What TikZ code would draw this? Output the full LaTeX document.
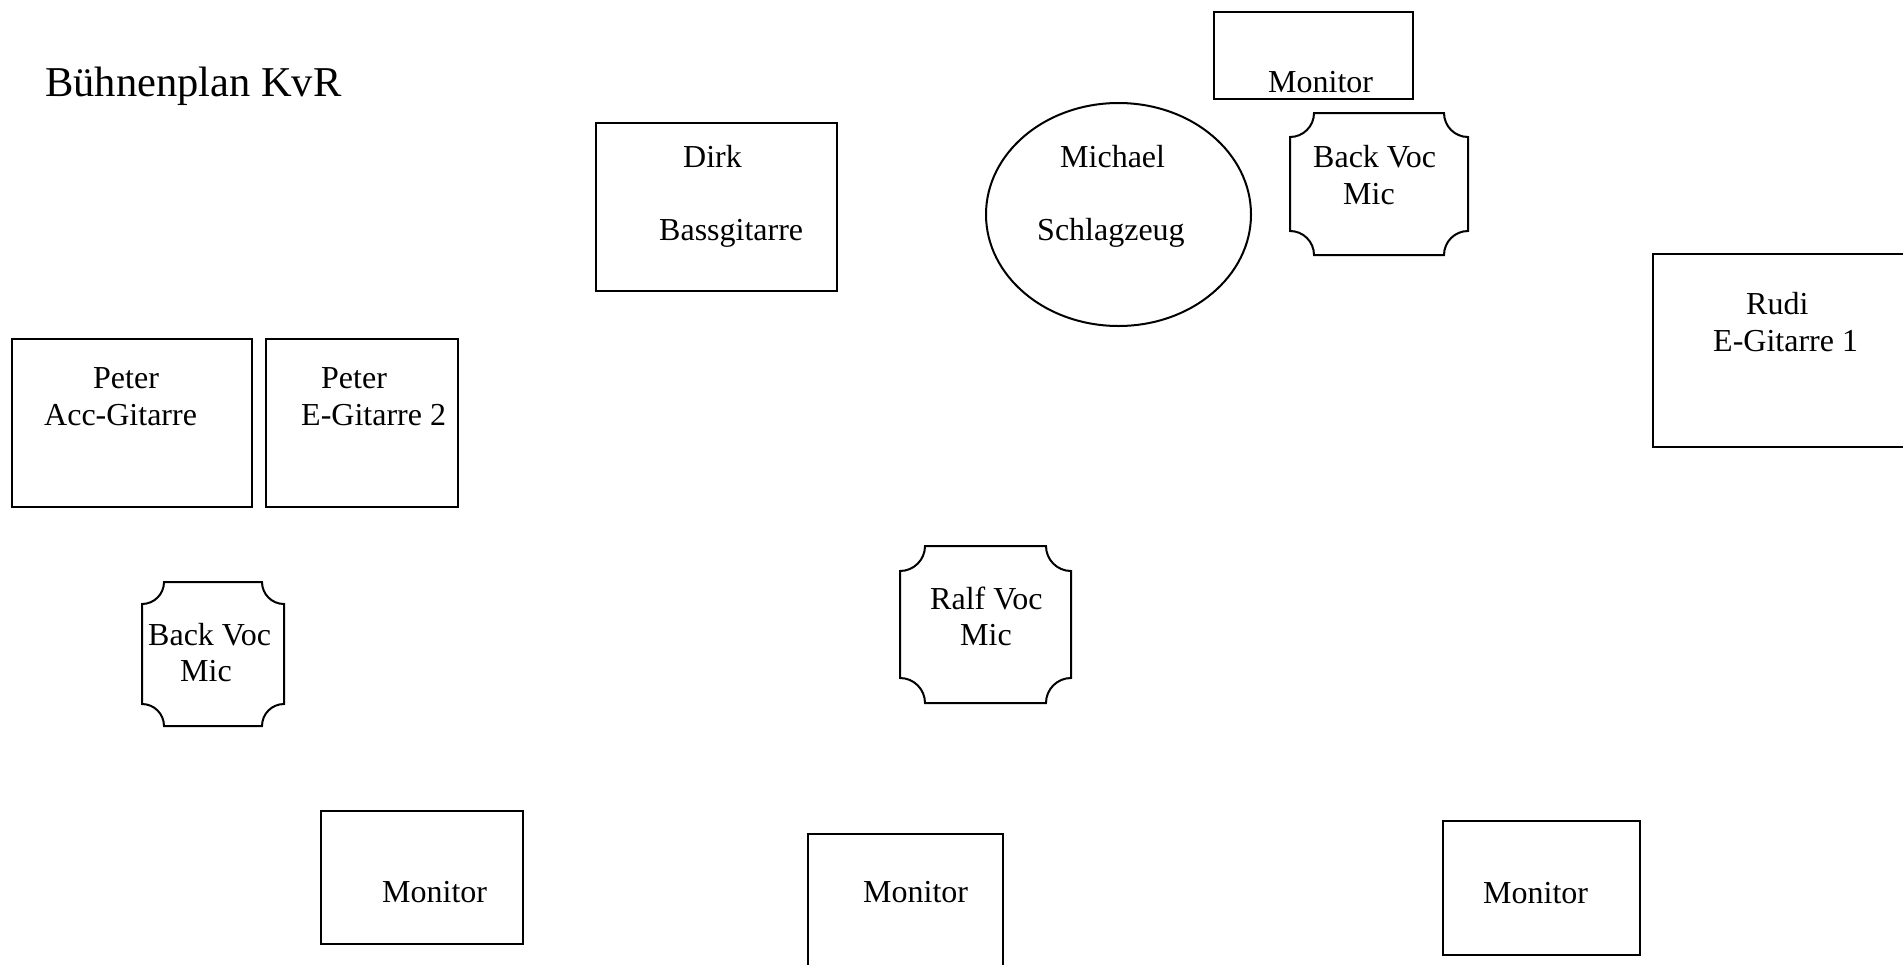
\documentclass[tikz,border=0pt]{standalone}
\usepackage{fontspec}
\setmainfont{Liberation Serif}
\usetikzlibrary{shapes.geometric}
\tikzset{
  ln/.style={draw=black,line width=2pt},
  boxn/.style={ln,rectangle,anchor=north west,inner sep=0pt,outer sep=0pt},
  txt/.style={anchor=base west,inner sep=0pt,font=\fontsize{32}{36}\selectfont},
  ttl/.style={anchor=base west,inner sep=0pt,font=\fontsize{42.5}{48}\selectfont}
}
\newcommand\mybox[5]{\node[boxn,minimum width={(#4-#2)*1pt},minimum height={(#5-#3)*1pt}] (#1) at (#2,#3) {};}
\newcommand\mymic[6]{%
  \coordinate (#1) at ({(#2+#4)/2},{(#3+#5)/2});
  \draw[ln] ({#2+#6},#3) -- ({#4-#6},#3) arc[start angle=180,end angle=90,radius=#6]
    -- (#4,{#5-#6}) arc[start angle=270,end angle=180,radius=#6]
    -- ({#2+#6},#5) arc[start angle=0,end angle=-90,radius=#6]
    -- (#2,{#3+#6}) arc[start angle=90,end angle=0,radius=#6] -- cycle;}
\begin{document}
\begin{tikzpicture}[x=1pt,y=-1pt]
\clip (0,0) rectangle (1903,964);
\fill[white] (0,0) rectangle (1903,964);
% title
\node[ttl] (title) at (45,96) {Bühnenplan KvR};
% boxes
\mybox{montop}{1214}{12}{1413}{99}
\mybox{dirk}{596}{123}{837}{291}
\mybox{rudi}{1653}{254}{1915}{447}
\mybox{pacc}{12}{339}{252}{507}
\mybox{pe}{266}{339}{458}{507}
\mybox{monbl}{321}{811}{523}{944}
\mybox{monbm}{808}{834}{1003}{1000}
\mybox{monbr}{1443}{821}{1640}{955}
% drums
\node[ln,ellipse,minimum width=265pt,minimum height=223pt,inner sep=0pt] (mich) at (1118.5,214.5) {};
% mics
\mymic{bvone}{1290}{113}{1468}{255}{24}
\mymic{bvtwo}{142}{582}{284}{726}{22}
\mymic{ralf}{900}{546}{1071}{703}{25}
% texts
\node[txt] (tmontop) at (1268,92) {Monitor};
\node[txt] (tdirka) at (683,167) {Dirk};
\node[txt] (tdirkb) at (659,240) {Bassgitarre};
\node[txt] (tmicha) at (1060,167) {Michael};
\node[txt] (tmichb) at (1037,240) {Schlagzeug};
\node[txt] (tbva) at (1313,167) {Back Voc};
\node[txt] (tbvb) at (1343,204) {Mic};
\node[txt] (truda) at (1746,314) {Rudi};
\node[txt] (trudb) at (1713,351) {E-Gitarre 1};
\node[txt] (tpaa) at (93,388) {Peter};
\node[txt] (tpab) at (44,425) {Acc-Gitarre};
\node[txt] (tpea) at (321,388) {Peter};
\node[txt] (tpeb) at (301,425) {E-Gitarre 2};
\node[txt] (tbvc) at (148,645) {Back Voc};
\node[txt] (tbvd) at (180,681) {Mic};
\node[txt] (tralfa) at (930,609) {Ralf Voc};
\node[txt] (tralfb) at (960,645) {Mic};
\node[txt] (tmonbl) at (382,902) {Monitor};
\node[txt] (tmonbm) at (863,902) {Monitor};
\node[txt] (tmonbr) at (1483,903) {Monitor};
\end{tikzpicture}
\end{document}
